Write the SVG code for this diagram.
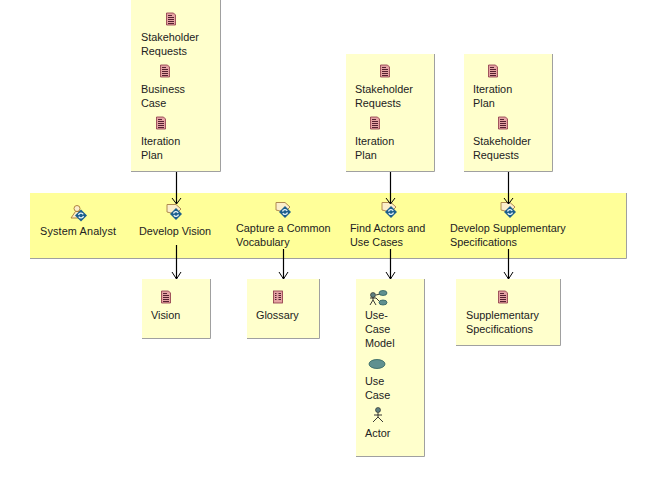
<svg xmlns="http://www.w3.org/2000/svg" xmlns:xlink="http://www.w3.org/1999/xlink" width="647" height="498" viewBox="0 0 647 498">
<style>
text{font-family:"Liberation Sans",Arial,sans-serif;font-size:10.85px;fill:#222}
.box{fill:#ffffcc;stroke:none}
.shade{fill:none;stroke:#a0a0a0;stroke-width:1}
.band{fill:#ffff99}
.conn{fill:none;stroke:#000;stroke-width:1.2}
.head{fill:none;stroke:#000;stroke-width:1}
.doc{fill:#e5a3a3;stroke:#8a3344;stroke-width:.8}
.ln{stroke:#441122;stroke-width:.9}
.uc{fill:#5f9090;stroke:#2c6060;stroke-width:.8}
.act{fill:none;stroke:#222;stroke-width:.9}
</style>
<defs>
<g id="doc"><path class="doc" d="M-4.500 -6H2.500L4.500 -4V6H-4.500Z"/><path class="ln" d="M-3 -3.500H1M-3 -1.500H3M-3 .5H3M-3 2.500H3M-3 4.500H3"/></g>
<g id="gloss"><rect class="doc" x="-4.500" y="-6" width="9" height="12"/><path class="ln" d="M-3 -3.500H-1.500M.5 -3.500H3M-3 -1.500H-1.500M.5 -1.500H3M-3 .5H-1.500M.5 .5H3M-3 2.500H-1.500M.5 2.500H3"/></g>
<g id="cycle"><path d="M0 -6L6 0L0 6L-6 0Z" fill="#1c5f8c"/><path d="M-2.500 -.5A2.600 2.600 0 0 1 2.200 -1.200M2.500 .5A2.600 2.600 0 0 1 -2.200 1.200" fill="none" stroke="#e8f4fb" stroke-width="1.300"/></g>
<g id="activity"><path d="M-7 -6.500H2L7 -2L3 2H-3L-7 1Z" fill="#fbeecb" stroke="#b08a50" stroke-width="1"/><use xlink:href="#cycle" x="2" y="3"/></g>
<g id="analyst"><circle cx="-1" cy="-4.500" r="3" fill="#fbeecb" stroke="#a87830" stroke-width=".9"/><path d="M-7 5L-2.500 -1.500H1.500L5 5Z" fill="#fbeecb" stroke="#a87830" stroke-width=".9"/><use xlink:href="#cycle" x="3" y="2.500"/></g>
<g id="actor"><circle cx="0" cy="-5" r="2.500" fill="#5f8080" stroke="#222" stroke-width=".6"/><path class="act" d="M0 -2.500V2M-4 0H4M0 2L-5 7M0 2L5 7"/></g>
</defs>

<g id="node-stakeholder-inputs-1">
<rect class="box" x="131" y="0" width="89" height="171"/><path class="shade" d="M220.500 0V171.500H131"/>
<use xlink:href="#doc" x="171" y="19"/><text x="141" y="41">Stakeholder</text><text x="141" y="55">Requests</text>
<use xlink:href="#doc" x="165" y="71"/><text x="141" y="93">Business</text><text x="141" y="107">Case</text>
<use xlink:href="#doc" x="161" y="123"/><text x="141" y="145">Iteration</text><text x="141" y="159">Plan</text>
</g>
<g id="node-inputs-2">
<rect class="box" x="346" y="54" width="88" height="117"/><path class="shade" d="M434.500 54V171.500H346"/>
<use xlink:href="#doc" x="385" y="71"/><text x="355" y="93">Stakeholder</text><text x="355" y="107">Requests</text>
<use xlink:href="#doc" x="375" y="123"/><text x="355" y="145">Iteration</text><text x="355" y="159">Plan</text>
</g>
<g id="node-inputs-3">
<rect class="box" x="464" y="54" width="88" height="117"/><path class="shade" d="M552.500 54V171.500H464"/>
<use xlink:href="#doc" x="493" y="71"/><text x="473" y="93">Iteration</text><text x="473" y="107">Plan</text>
<use xlink:href="#doc" x="503" y="123"/><text x="473" y="145">Stakeholder</text><text x="473" y="159">Requests</text>
</g>

<g id="node-workflow-band">
<rect class="band" x="30" y="193" width="596" height="65"/><path class="shade" d="M626.500 193V258.500H30"/>
</g>
<g id="node-system-analyst"><use xlink:href="#analyst" x="78" y="213"/><text x="40" y="235" textLength="76">System Analyst</text></g>
<g id="node-develop-vision"><use xlink:href="#activity" x="174" y="211"/><text x="139" y="235">Develop Vision</text></g>
<g id="node-capture-vocabulary"><use xlink:href="#activity" x="283" y="209"/><text x="236" y="232">Capture a Common</text><text x="236" y="246">Vocabulary</text></g>
<g id="node-find-actors"><use xlink:href="#activity" x="389" y="209"/><text x="350" y="232">Find Actors and</text><text x="350" y="246">Use Cases</text></g>
<g id="node-develop-supplementary"><use xlink:href="#activity" x="508" y="209"/><text x="450" y="232">Develop Supplementary</text><text x="450" y="246">Specifications</text></g>

<g id="node-vision">
<rect class="box" x="142" y="279" width="68" height="59"/><path class="shade" d="M210.500 279V338.500H142"/>
<use xlink:href="#doc" x="166" y="297"/><text x="151" y="319">Vision</text>
</g>
<g id="node-glossary">
<rect class="box" x="247" y="279" width="72" height="59"/><path class="shade" d="M319.500 279V338.500H247"/>
<use xlink:href="#gloss" x="278" y="297"/><text x="256" y="319">Glossary</text>
</g>
<g id="node-use-case-outputs">
<rect class="box" x="356" y="279" width="68" height="177"/><path class="shade" d="M424.500 279V456.500H356"/>
<g transform="translate(379 298)"><circle cx="-6" cy="-3" r="2.500" fill="#5f8080" stroke="#222" stroke-width=".6"/><path class="act" d="M-6 -.5V2M-9 0H-3M-6 2L-9 7M-6 2L-3 7M-3 -3L1 -4M-3 0L1 4"/><ellipse class="uc" cx="4" cy="-5" rx="4" ry="2.500"/><ellipse class="uc" cx="4" cy="4.500" rx="4" ry="2.500"/></g>
<text x="365" y="319">Use-</text><text x="365" y="333">Case</text><text x="365" y="347">Model</text>
<ellipse class="uc" cx="377" cy="364" rx="8" ry="4.500"/>
<text x="365" y="385">Use</text><text x="365" y="399">Case</text>
<use xlink:href="#actor" x="378" y="415"/><text x="365" y="437">Actor</text>
</g>
<g id="node-supplementary-specifications">
<rect class="box" x="456" y="279" width="104" height="66"/><path class="shade" d="M560.500 279V345.500H456"/>
<use xlink:href="#doc" x="503" y="297"/><text x="466" y="319">Supplementary</text><text x="466" y="333">Specifications</text>
</g>

<g id="connectors">
<path class="conn" d="M176.500 172V204M390.500 172V204M508.500 172V204"/>
<path class="head" d="M172 198L176.500 204L181 198M386 198L390.500 204L395 198M504 198L508.500 204L513 198"/>
<path class="conn" d="M176.500 245V279M283.500 249V279M390.500 249V279M508.500 249V279"/>
<path class="head" d="M172 272L176.500 279L181 272M279 272L283.500 279L288 272M386 272L390.500 279L395 272M504 272L508.500 279L513 272"/>
</g>
</svg>
